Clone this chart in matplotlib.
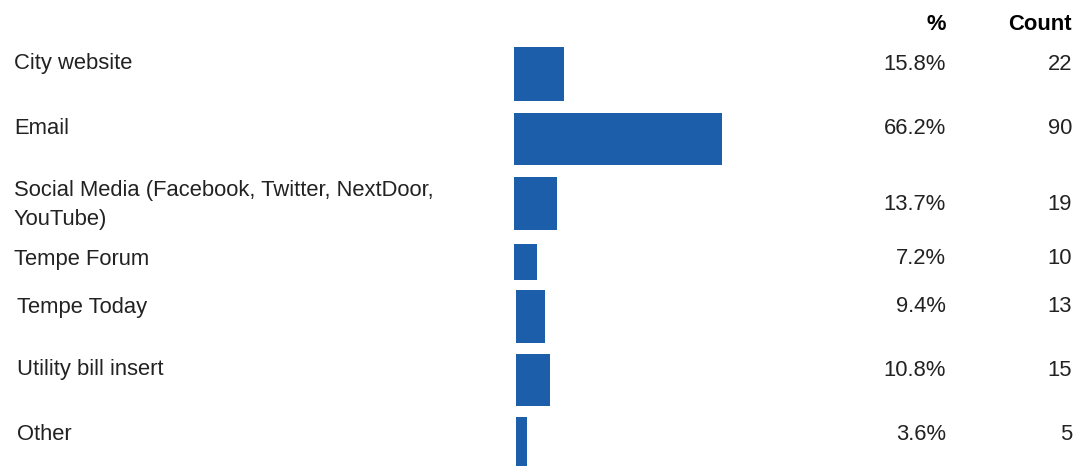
import matplotlib
matplotlib.use("Agg")
import matplotlib.pyplot as plt

# Datos
categorias = ["City website", "Email", "Social Media (Facebook, Twitter, NextDoor,\nYouTube)",
              "Tempe Forum", "Tempe Today", "Utility bill insert", "Other"]
porcentajes = [15.8, 66.2, 13.7, 7.2, 9.4, 10.8, 3.6]
conteos = [22, 90, 19, 10, 13, 15, 5]

# Layout (pixeles de la imagen original)
W, H = 1076, 466
centros_barra = [74, 139, 203.5, 262, 316.5, 380, 442]
altos_barra = [54, 52, 53, 36, 53, 52, 50]
inicio_barra = [0, 0, 0, 0, 0.6, 0.6, 0.6]   # las ultimas filas arrancan 2 px mas a la derecha
centros_texto = [64, 129, 205, 259, 307, 370, 434]
x_texto = [14, 14, 14, 14, 17, 17, 17]
color_barra = "#1c5eaa"
color_texto = "#222222"

plt.rcParams['font.family'] = ['Liberation Sans', 'DejaVu Sans']

fig = plt.figure(figsize=(W / 100, H / 100), dpi=100)

# eje de las barras: empieza en x=514 px, 3.14 px por punto porcentual
x0 = 514
ax = fig.add_axes([x0 / W, 0, (W - x0) / W, 1])
ax.barh(centros_barra, porcentajes, height=altos_barra, color=color_barra, left=inicio_barra)
ax.set_xlim(0, (W - x0) / 3.14)
ax.set_ylim(H, 0)
ax.axis("off")

fs = 15.8
for i in range(len(categorias)):
    yy = 1 - centros_texto[i] / H
    fig.text(x_texto[i] / W, yy, categorias[i], fontsize=fs, color=color_texto,
             va="center", ha="left", linespacing=1.45)
    fig.text(946 / W, yy, f"{porcentajes[i]:.1f}%", fontsize=fs, color=color_texto,
             va="center", ha="right")
    fig.text(1072 / W, yy, f"{conteos[i]}", fontsize=fs, color=color_texto,
             va="center", ha="right")

fig.text(946 / W, 1 - 25 / H, "%", fontsize=fs, fontweight="bold", color="black",
         va="center", ha="right")
fig.text(1072 / W, 1 - 25 / H, "Count", fontsize=fs, fontweight="bold", color="black",
         va="center", ha="right")

fig.savefig("out.png", dpi=100)
